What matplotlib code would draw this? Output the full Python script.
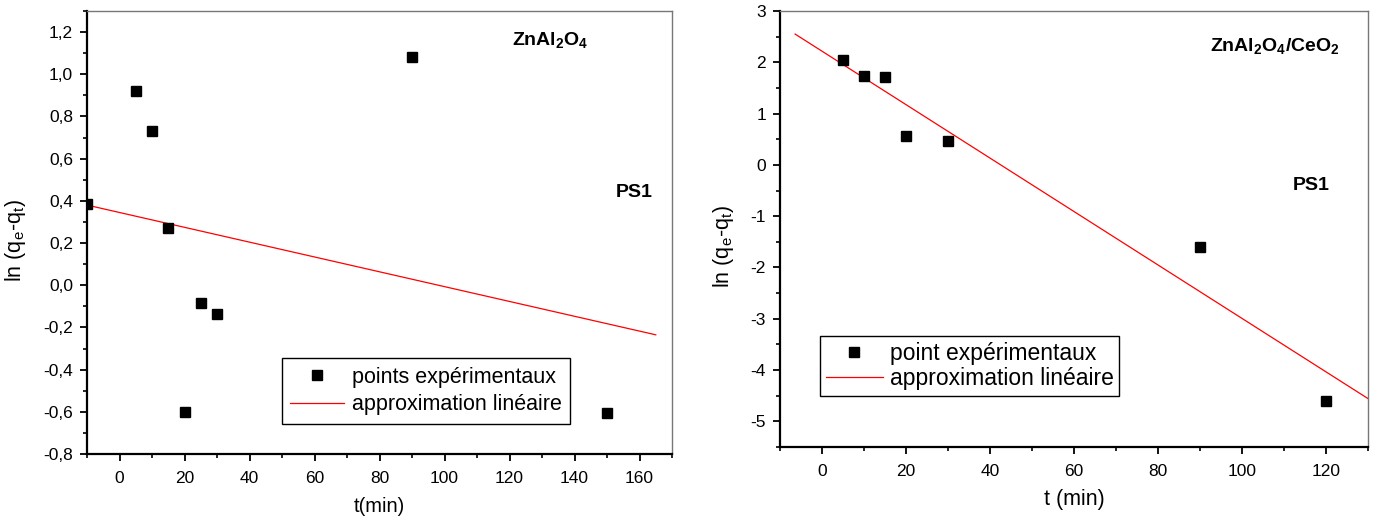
import matplotlib
matplotlib.use("Agg")
import matplotlib.pyplot as plt
from matplotlib.ticker import MultipleLocator, FuncFormatter
import numpy as np

plt.rcParams['font.family'] = ['Liberation Sans', 'DejaVu Sans']
plt.rcParams['mathtext.fontset'] = 'custom'
plt.rcParams['mathtext.rm'] = 'Liberation Sans'
plt.rcParams['mathtext.it'] = 'Liberation Sans:italic'
plt.rcParams['mathtext.bf'] = 'Liberation Sans:bold'

# ---- data: left panel (ZnAl2O4) ----
t_left = [-10, 5, 10, 15, 20, 25, 30, 90, 150]
ln_left = [0.384, 0.92, 0.73, 0.27, -0.60, -0.085, -0.135, 1.08, -0.605]
fit_left_t = [-10, 165]
fit_left_y = [0.38, -0.235]

# ---- data: right panel (ZnAl2O4/CeO2) ----
t_right = [5, 10, 15, 20, 30, 90, 120]
ln_right = [2.04, 1.73, 1.72, 0.57, 0.47, -1.61, -4.60]
fit_right_t = [-6.4, 130]
fit_right_y = [2.55, -4.556]

W, H = 1376, 526
fig = plt.figure(figsize=(W / 100, H / 100), dpi=100)

def ax_rect(x0, x1, y0, y1):
    return [x0 / W, 1 - y1 / H, (x1 - x0) / W, (y1 - y0) / H]

ax1 = fig.add_axes(ax_rect(87, 672, 11, 454))
ax2 = fig.add_axes(ax_rect(780, 1368, 11, 447))

comma1 = FuncFormatter(lambda v, p: ('%.1f' % v).replace('.', ','))
comma0 = FuncFormatter(lambda v, p: '%d' % round(v))

def style(ax):
    for s in ['left', 'bottom']:
        ax.spines[s].set_color('black')
        ax.spines[s].set_linewidth(1.6)
    for s in ['top', 'right']:
        ax.spines[s].set_color('#777777')
        ax.spines[s].set_linewidth(1.0)
    ax.tick_params(which='major', direction='out', length=5, width=1.3,
                   labelsize=12.5, top=False, right=False)
    ax.tick_params(which='minor', direction='out', length=3, width=1.2,
                   top=False, right=False)
    ax.tick_params(axis='y', which='major', pad=5)
    ax.tick_params(axis='x', which='major', pad=7)

# ---- left panel ----
ax1.plot(fit_left_t, fit_left_y, color='red', lw=0.9, label='approximation linéaire')
ax1.plot(t_left, ln_left, ls='none', marker='s', color='black', ms=6.5,
         label='points expérimentaux', clip_on=True)
ax1.set_xlim(-10, 170)
ax1.set_ylim(-0.8, 1.3)
ax1.xaxis.set_major_locator(MultipleLocator(20))
ax1.xaxis.set_minor_locator(MultipleLocator(10))
ax1.yaxis.set_major_locator(MultipleLocator(0.2))
ax1.yaxis.set_minor_locator(MultipleLocator(0.1))
ax1.xaxis.set_major_formatter(comma0)
ax1.yaxis.set_major_formatter(comma1)
style(ax1)
h, l = ax1.get_legend_handles_labels()
leg1 = ax1.legend(h[::-1], l[::-1], loc='upper left', bbox_to_anchor=(0.333, 0.2167),
                  borderaxespad=0, fontsize=15.5, frameon=True, fancybox=False,
                  edgecolor='black', handlelength=2.5, handletextpad=0.35,
                  labelspacing=0.3, borderpad=0.4, framealpha=1)
leg1.get_frame().set_linewidth(1.0)
ax1.text(120.8, 1.139, r'ZnAl$_\mathbf{2}$O$_\mathbf{4}$', fontsize=14,
         fontweight='bold', ha='left', va='baseline')
ax1.text(152.8, 0.418, 'PS1', fontsize=14, fontweight='bold', ha='left', va='baseline')

# ---- right panel ----
ax2.plot(fit_right_t, fit_right_y, color='red', lw=0.9, label='approximation linéaire')
ax2.plot(t_right, ln_right, ls='none', marker='s', color='black', ms=6.5,
         label='point expérimentaux')
ax2.set_xlim(-10, 130)
ax2.set_ylim(-5.5, 3)
ax2.xaxis.set_major_locator(MultipleLocator(20))
ax2.xaxis.set_minor_locator(MultipleLocator(10))
ax2.yaxis.set_major_locator(MultipleLocator(1))
ax2.yaxis.set_minor_locator(MultipleLocator(0.5))
ax2.xaxis.set_major_formatter(comma0)
ax2.yaxis.set_major_formatter(comma0)
style(ax2)
h, l = ax2.get_legend_handles_labels()
leg2 = ax2.legend(h[::-1], l[::-1], loc='upper left', bbox_to_anchor=(0.068, 0.2546),
                  borderaxespad=0, fontsize=16.5, frameon=True, fancybox=False,
                  edgecolor='black', handlelength=2.5, handletextpad=0.3,
                  labelspacing=0.1, borderpad=0.25, framealpha=1)
leg2.get_frame().set_linewidth(1.0)
ax2.text(92.3, 2.22, r'ZnAl$_\mathbf{2}$O$_\mathbf{4}$/CeO$_\mathbf{2}$', fontsize=14,
         fontweight='bold', ha='left', va='baseline')
ax2.text(112.0, -0.48, 'PS1', fontsize=14, fontweight='bold', ha='left', va='baseline')

# ---- axis labels ----
fig.text(379.5 / W, 1 - 507 / H, 't(min)', fontsize=14.5, ha='center', va='center')
fig.text(1074 / W, 1 - 500 / H, 't (min)', fontsize=15.5, ha='center', va='center')
fig.text(16 / W, 1 - 241 / H, r'ln (q$_\mathrm{e}$-q$_\mathrm{t}$)', fontsize=15.5,
         rotation=90, ha='center', va='center')
fig.text(723 / W, 1 - 247 / H, r'ln (q$_\mathrm{e}$-q$_\mathrm{t}$)', fontsize=15.5,
         rotation=90, ha='center', va='center')

fig.savefig('out.png', dpi=100)
